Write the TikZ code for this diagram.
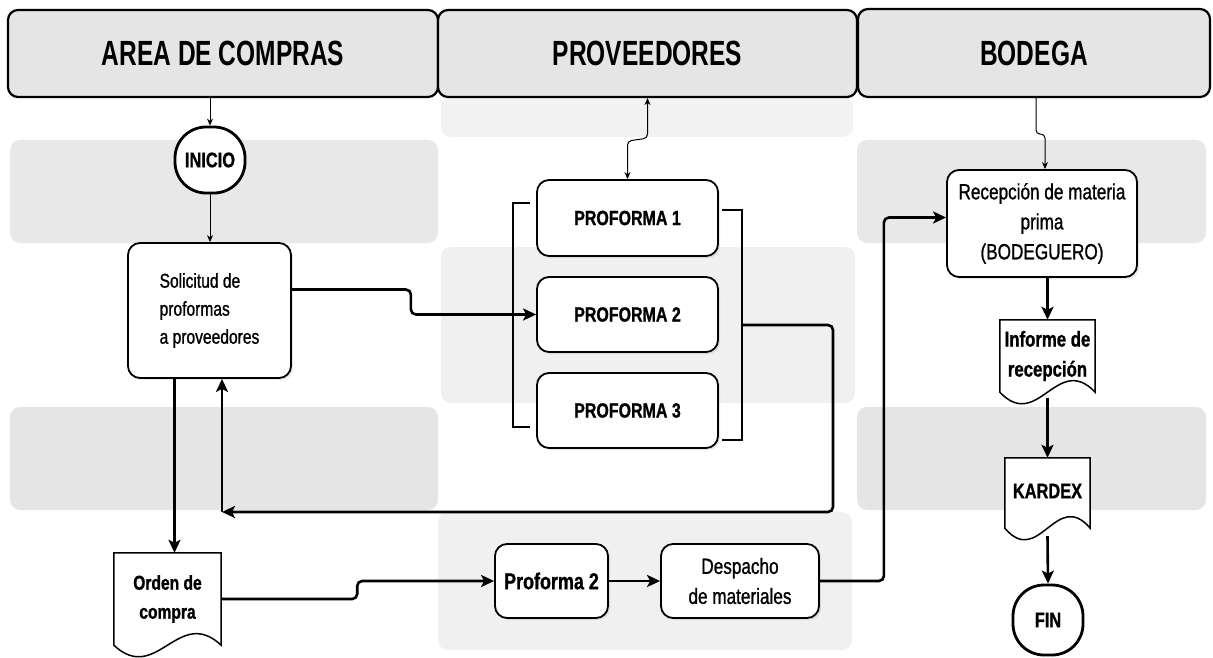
\documentclass[tikz,border=0pt]{standalone}
\usepackage{fontspec}
\setmainfont{Liberation Sans}[FakeStretch=0.78,FakeBold=1]
\newfontfamily\headfont{Liberation Sans}[FakeStretch=0.7]
\usetikzlibrary{arrows.meta,calc,shadows}
\pgfdeclarelayer{bands}
\pgfdeclarelayer{background}
\pgfsetlayers{bands,background,main}

\begin{document}
\begin{tikzpicture}[x=1pt,y=-1pt,
    lane/.style={fill=#1,draw=none,rounded corners=10pt},
    header/.style={draw=black,line width=2.2pt,fill=black!10,rounded corners=10pt,font=\headfont\bfseries\fontsize{35}{40}\selectfont},
    box/.style={draw=black,line width=1.8pt,fill=white,rounded corners=12pt,align=center,inner sep=0pt,
        drop shadow={opacity=0.18,shadow xshift=2pt,shadow yshift=-2pt}},
    boldtext/.style={font=\bfseries\fontsize{20.5}{28}\selectfont},
    plaintext/.style={font=\fontsize{22}{30}\selectfont},
    terminal/.style={draw=black,line width=2.8pt,fill=white,rounded corners=31pt,inner sep=0pt,
        font=\bfseries\fontsize{21}{25}\selectfont},
    doc/.style={inner sep=0pt,align=center,font=\bfseries\fontsize{21}{30}\selectfont},
    docline/.style={draw=black,line width=1.5pt,fill=white},
    bracket/.style={draw=black,line width=1.8pt},
    thinarrow/.style={draw=black,line width=1pt,-{Stealth[length=7pt,width=6pt]},rounded corners=4pt},
    flow/.style={draw=black,line width=2.6pt,-{Stealth[length=13pt,width=12pt,inset=3pt]},rounded corners=5pt}]

    \useasboundingbox (0,0) rectangle (1213,658);

    % Grey lanes
    \begin{pgfonlayer}{bands}
    \fill[lane=black!9] (10,140) rectangle (438,243);
    \fill[lane=black!10] (10,407) rectangle (438,510);
    \fill[lane=black!5] (441,97) rectangle (853,137);
    \fill[lane=black!6] (441,247) rectangle (855,403);
    \fill[lane=black!6] (438,512) rectangle (852,650);
    \fill[lane=black!9] (857,140) rectangle (1206,243);
    \fill[lane=black!10] (857,407) rectangle (1206,510);
    \end{pgfonlayer}

    % Headers
    \node[header,minimum width=430,minimum height=87] (hcompras) at (223,53.5) {AREA DE COMPRAS};
    \node[header,minimum width=419,minimum height=87] (hprov) at (647.5,53.5) {PROVEEDORES};
    \node[header,minimum width=352,minimum height=88] (hbodega) at (1034,53) {BODEGA};

    % Area de compras
    \node[terminal,minimum width=70,minimum height=66] (inicio) at (210,160) {INICIO};
    \node[box,minimum width=163,minimum height=135,align=left,
        font=\fontsize{20}{28}\selectfont] (solicitud) at (209.5,310.5) {Solicitud de\\proformas\\a proveedores};
    \node[doc,minimum width=107,minimum height=92,font=\bfseries\fontsize{20}{29}\selectfont] (orden) at (167.5,599) {Orden de\\compra};

    % Proveedores
    \node[box,boldtext,minimum width=181,minimum height=76] (prof1) at (627.5,218) {PROFORMA 1};
    \node[box,boldtext,minimum width=181,minimum height=75] (prof2) at (627.5,314.5) {PROFORMA 2};
    \node[box,boldtext,minimum width=181,minimum height=75] (prof3) at (627.5,410.5) {PROFORMA 3};
    \node[box,minimum width=113,minimum height=74,font=\bfseries\fontsize{23}{28}\selectfont] (prof2b) at (551.5,581) {Proforma 2};
    \node[box,plaintext,minimum width=158,minimum height=74] (despacho) at (740,581) {Despacho\\de materiales};

    % Brackets round the proformas
    \draw[bracket] (530,203) -- (513,203) -- (513,427) -- (530,427);
    \draw[bracket] (722,210) -- (742,210) -- (742,440) -- (722,440);
    \coordinate (brR) at (742,325);
    \coordinate (loop) at (222,512);

    % Bodega
    \node[box,plaintext,minimum width=190,minimum height=107] (recepcion) at (1042,223.5) {Recepción de materia\\prima\\(BODEGUERO)};
    \node[doc,minimum width=95,minimum height=72,font=\bfseries\fontsize{21.5}{30}\selectfont] (informe) at (1047.5,356) {Informe de\\recepción};
    \node[doc,minimum width=85,minimum height=70] (kardex) at (1047.5,493) {\raisebox{4pt}{KARDEX}};
    \node[terminal,minimum width=70,minimum height=70] (fin) at (1048,620) {FIN};

    % Document outlines
    \begin{pgfonlayer}{background}
    \foreach \n in {orden,informe,kardex}
        \draw[docline] (\n.south west) -- (\n.north west) -- (\n.north east) -- (\n.south east)
            .. controls ($(\n.south east)!0.4!(\n.south west)+(0,-40)$) and ($(\n.south east)!0.6!(\n.south west)+(0,40)$) .. (\n.south west) -- cycle;
    \end{pgfonlayer}

    % Thin connectors from the headers
    \draw[thinarrow] (inicio.north |- hcompras.south) -- (inicio.north);
    \draw[thinarrow] (inicio.south) -- (inicio.south |- solicitud.north);
    \draw[thinarrow,{Stealth[length=7pt,width=6pt]}-{Stealth[length=7pt,width=6pt]}] (hprov.south) -- ++(0,40) -- ([yshift=38pt]prof1.north) -- (prof1.north);
    \draw[thinarrow] ([xshift=2pt]hbodega.south) -- ++(0,36) -- ([xshift=3pt,yshift=35pt]recepcion.north) -- ([xshift=3pt]recepcion.north);

    % Main flow
    \draw[flow] ([yshift=21pt]solicitud.east) -- ++(119,0) -- ++(0,25) -- (prof2.west);
    \draw[flow] ([xshift=-35pt]solicitud.south) -- ([xshift=-35pt]solicitud.south |- orden.north);
    \draw[flow] (brR) -- ++(91,0) -- ++(0,187) -- (loop);
    \draw[flow] (loop) -- (loop |- solicitud.south);
    \draw[flow] (orden.east) -- ++(136,0) |- (prof2b.west);
    \draw[flow] (prof2b.east) -- (despacho.west);
    \draw[flow] (despacho.east) -- ++(64,0) |- ([yshift=6pt]recepcion.west);
    \draw[flow] (recepcion.south -| informe.north) -- (informe.north);
    \draw[flow] ([yshift=-6pt]informe.south) -- (kardex.north);
    \draw[flow] ([yshift=-8pt]kardex.south) -- (fin.north);
\end{tikzpicture}
\end{document}
